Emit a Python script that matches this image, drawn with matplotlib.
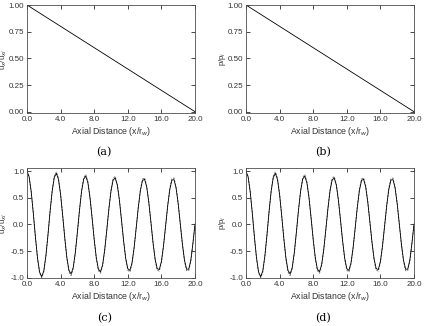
import numpy as np
import matplotlib
matplotlib.use("Agg")
import matplotlib.pyplot as plt

# ---------------- data ----------------
x_lin = [0.0, 20.0]
u_mean = [1.0, 0.0]
p_mean = [1.0, 0.0]

x_osc = np.arange(81) * 0.25
u_solid = [1.000, 0.897, 0.615, 0.212, -0.231, -0.626, -0.893, -0.980, -0.870, -0.588,
           -0.189, 0.246, 0.628, 0.883, 0.959, 0.843, 0.558, 0.165, -0.257, -0.625,
           -0.863, -0.928, -0.808, -0.527, -0.142, 0.269, 0.623, 0.851, 0.907, 0.781,
           0.500, 0.121, -0.280, -0.623, -0.839, -0.885, -0.757, -0.476, -0.101, 0.292,
           0.627, 0.833, 0.873, 0.739, 0.455, 0.082, -0.306, -0.632, -0.829, -0.861,
           -0.720, -0.435, -0.064, 0.319, 0.636, 0.825, 0.849, 0.703, 0.416, 0.046,
           -0.333, -0.646, -0.829, -0.846, -0.693, -0.401, -0.029, 0.349, 0.657, 0.833,
           0.842, 0.682, 0.386, 0.011, -0.365, -0.668, -0.838, -0.839, -0.672, -0.356,
           0.006]
u_dashed = [1.000, 0.900, 0.619, 0.214, -0.234, -0.635, -0.908, -1.000, -0.889, -0.601,
            -0.193, 0.252, 0.646, 0.909, 0.989, 0.869, 0.575, 0.170, -0.266, -0.645,
            -0.891, -0.958, -0.834, -0.544, -0.147, 0.277, 0.643, 0.879, 0.937, 0.807,
            0.517, 0.125, -0.289, -0.644, -0.867, -0.915, -0.782, -0.492, -0.105, 0.302,
            0.648, 0.862, 0.903, 0.764, 0.471, 0.085, -0.316, -0.653, -0.858, -0.891,
            -0.745, -0.450, -0.066, 0.330, 0.659, 0.854, 0.878, 0.728, 0.431, 0.048,
            -0.345, -0.669, -0.858, -0.875, -0.717, -0.415, -0.030, 0.361, 0.680, 0.862,
            0.872, 0.706, 0.399, 0.012, -0.378, -0.692, -0.867, -0.868, -0.695, -0.369,
            0.006]
p_solid = list(u_solid)
p_dashed = list(u_dashed)

x_ticks = [0, 4, 8, 12, 16, 20]
y_ticks_top = [0.0, 0.25, 0.5, 0.75, 1.0]
y_ticks_bot = [-1.0, -0.5, 0.0, 0.5, 1.0]
xlabel = "Axial Distance (x/r$_w$)"
ylabels = ["u$_x$/u$_{xi}$", "p/p$_i$", "u$_x$/u$_{xi}$", "p/p$_i$"]
captions = ["(a)", "(b)", "(c)", "(d)"]

# ---------------- figure ----------------
W, H = 425, 326
fig = plt.figure(figsize=(W / 100, H / 100), dpi=100)
tickfont = dict(family="Liberation Sans", size=5.8, color="0.2")

def px_axes(x0, x1, ytop, ybot):
    return fig.add_axes([x0 / W, 1 - ybot / H, (x1 - x0) / W, (ybot - ytop) / H])

axes = [
    px_axes(27, 195, 5, 113.3),
    px_axes(246, 414, 5, 113.3),
    px_axes(27, 195, 168, 278.3),
    px_axes(246, 414, 168, 278.3),
]

for i, ax in enumerate(axes):
    if i < 2:
        yv = u_mean if i == 0 else p_mean
        ax.plot(x_lin, yv, color="black", lw=0.6)
        ax.set_ylim(-0.015, 1.0)
        ax.set_yticks(y_ticks_top)
        ax.set_yticklabels([f"{v:.2f}" for v in y_ticks_top], **tickfont)
    else:
        ys = u_solid if i == 2 else p_solid
        yd = u_dashed if i == 2 else p_dashed
        ax.plot(x_osc, yd, color="0.4", lw=0.6, ls=(0, (2.5, 1.5)))
        ax.plot(x_osc, ys, color="black", lw=0.6)
        ax.set_ylim(-1.01, 1.06)
        ax.set_yticks(y_ticks_bot)
        ax.set_yticklabels([f"{v:.1f}" for v in y_ticks_bot], **tickfont)
    ax.set_xlim(0, 20)
    ax.set_xticks(x_ticks)
    ax.set_xticklabels([f"{v:.1f}" for v in x_ticks], **tickfont)
    ax.tick_params(direction="in", length=3, width=0.5, top=True, right=True, pad=2)
    for s in ax.spines.values():
        s.set_linewidth(0.6)
        s.set_color("0.3")
    ax.set_xlabel(xlabel, family="Liberation Sans", size=6.3, color="0.2", labelpad=1.5)
    ax.set_ylabel(ylabels[i], family="Liberation Sans", size=5.6, color="0.2")
    ax.yaxis.set_label_coords(-23 / 168, 0.5)
    ax.yaxis.label.set_va("center")
    ax.text(0.46, -0.36, captions[i], transform=ax.transAxes,
            ha="center", va="center", family="DejaVu Serif", size=8)

fig.savefig("out.png", dpi=100)
